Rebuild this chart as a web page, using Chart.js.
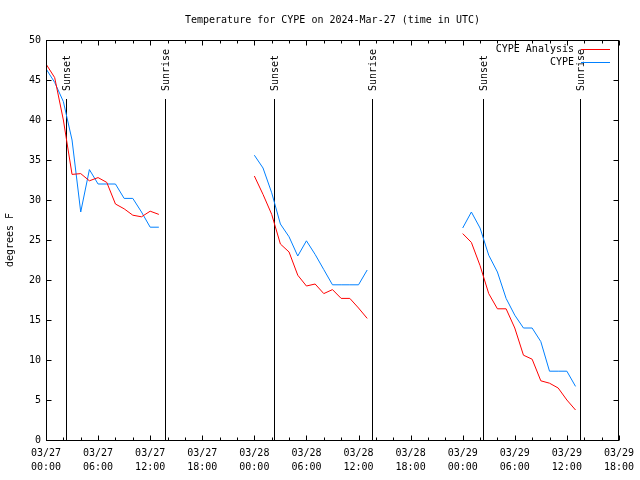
<!DOCTYPE html>
<html>
<head>
<meta charset="utf-8">
<title>CYPE temperature</title>
<script src="https://cdn.jsdelivr.net/npm/chart.js@4/dist/chart.umd.min.js"></script>
<style>
    html, body { margin: 0; padding: 0; background: #fff; }
</style>
</head>
<body>
<canvas id="tempChart" width="640" height="480"></canvas>
<script>
// Hours since 03/27 00:00 UTC, one block per evening
const hoursDay1 = [0, 1, 2, 3, 4, 5, 6, 7, 8, 9, 10, 11, 12, 13];
const hoursDay2 = [24, 25, 26, 27, 28, 29, 30, 31, 32, 33, 34, 35, 36, 37];
const hoursDay3 = [48, 49, 50, 51, 52, 53, 54, 55, 56, 57, 58, 59, 60, 61];

// CYPE Analysis (red)
const analysisDay1 = [47.0, 45.3, 40.0, 33.2, 33.3, 32.4, 32.8, 32.2, 29.5, 28.9, 28.1, 27.9, 28.6, 28.2];
const analysisDay2 = [33.0, 30.7, 28.2, 24.5, 23.5, 20.6, 19.25, 19.5, 18.3, 18.8, 17.7, 17.7, 16.5, 15.2];
const analysisDay3 = [25.8, 24.7, 21.8, 18.3, 16.4, 16.4, 14.0, 10.6, 10.1, 7.4, 7.1, 6.5, 5.0, 3.75];

// CYPE observations (blue)
const obsDay1 = [46.4, 44.7, 42.3, 37.5, 28.5, 33.8, 32.0, 32.0, 32.0, 30.2, 30.2, 28.5, 26.6, 26.6];
const obsDay2 = [35.6, 34.0, 30.9, 27.0, 25.4, 23.0, 24.9, 23.2, 21.3, 19.4, 19.4, 19.4, 19.4, 21.25];
const obsDay3 = [26.5, 28.5, 26.5, 23.1, 21.0, 17.7, 15.6, 14.0, 14.0, 12.3, 8.6, 8.6, 8.6, 6.7];

// Sun events (hours since 03/27 00:00)
const sunsetHours = [2.26, 26.24, 50.32];
const sunriseHours = [13.66, 37.58, 61.57];
const eventTop = 42.6;

const FONT = "'DejaVu Sans Mono', monospace";

function toPoints(blocks) {
    const pts = [];
    blocks.forEach(function(b, i) {
        if (i > 0) pts.push({ x: b[0][0] - 1, y: null });
        b[0].forEach(function(h, j) { pts.push({ x: h, y: b[1][j] }); });
    });
    return pts;
}

function pad2(n) { return (n < 10 ? '0' : '') + n; }

const framePlugin = {
    id: 'frame',
    beforeDatasetsDraw(chart) {
        const ctx = chart.ctx;
        const xs = chart.scales.x, ys = chart.scales.y;
        const yBot = ys.getPixelForValue(0);
        const yTop = Math.round(ys.getPixelForValue(eventTop));
        ctx.save();
        ctx.strokeStyle = '#000';
        ctx.lineWidth = 1;
        ctx.fillStyle = '#000';
        ctx.font = '10px ' + FONT;
        ctx.textBaseline = 'middle';
        ctx.textAlign = 'left';
        const events = [];
        sunsetHours.forEach(function(h) { events.push([h, 'Sunset']); });
        sunriseHours.forEach(function(h) { events.push([h, 'Sunrise']); });
        events.forEach(function(ev) {
            const x = Math.round(xs.getPixelForValue(ev[0])) + 0.5;
            ctx.beginPath();
            ctx.moveTo(x, yBot);
            ctx.lineTo(x, yTop);
            ctx.stroke();
            ctx.save();
            ctx.translate(x + 1, yTop - 8);
            ctx.rotate(-Math.PI / 2);
            ctx.fillText(ev[1], 0, 0);
            ctx.restore();
        });
        ctx.restore();
    },
    afterDraw(chart) {
        const ctx = chart.ctx;
        const a = chart.chartArea;
        const xs = chart.scales.x, ys = chart.scales.y;
        ctx.save();
        ctx.strokeStyle = '#000';
        ctx.lineWidth = 1;
        const L = Math.round(a.left) + 0.5, R = Math.round(a.right) - 0.5;
        const T = Math.round(a.top) + 0.5, B = Math.round(a.bottom) + 0.5;
        ctx.strokeRect(L, T, R - L, B - T);
        ctx.beginPath();
        // inward ticks, mirrored
        for (let v = 0; v <= 50; v += 5) {
            const y = Math.round(ys.getPixelForValue(v)) + 0.5;
            ctx.moveTo(L, y); ctx.lineTo(L + 5, y);
            ctx.moveTo(R, y); ctx.lineTo(R - 5, y);
        }
        for (let h = 0; h <= 66; h += 2) {
            const x = Math.round(xs.getPixelForValue(h)) + 0.5;
            const len = h % 6 === 0 ? 5 : 3;
            ctx.moveTo(x, B); ctx.lineTo(x, B - len);
            ctx.moveTo(x, T); ctx.lineTo(x, T + len);
        }
        ctx.stroke();

        // key, top right
        ctx.font = '10px ' + FONT;
        ctx.textAlign = 'right';
        ctx.textBaseline = 'middle';
        ctx.fillStyle = '#000';
        [0, 1].forEach(function(i) {
            const ds = chart.data.datasets[i];
            const y = 49 + i * 13;
            ctx.fillText(ds.label, 574, y);
            ctx.strokeStyle = ds.borderColor;
            ctx.beginPath();
            ctx.moveTo(581, y + 0.5);
            ctx.lineTo(610, y + 0.5);
            ctx.stroke();
        });
        ctx.restore();
    }
};

const ctx = document.getElementById('tempChart').getContext('2d');
new Chart(ctx, {
    type: 'line',
    data: {
        datasets: [{
            label: 'CYPE Analysis',
            data: toPoints([[hoursDay1, analysisDay1], [hoursDay2, analysisDay2], [hoursDay3, analysisDay3]]),
            borderColor: '#ff0000',
            borderWidth: 1,
            pointRadius: 0,
            tension: 0,
            spanGaps: false
        }, {
            label: 'CYPE',
            data: toPoints([[hoursDay1, obsDay1], [hoursDay2, obsDay2], [hoursDay3, obsDay3]]),
            borderColor: '#0080ff',
            borderWidth: 1,
            pointRadius: 0,
            tension: 0,
            spanGaps: false
        }]
    },
    options: {
        responsive: false,
        animation: false,
        events: [],
        layout: { padding: { left: 0, right: 19, top: 0, bottom: 0 } },
        plugins: {
            legend: { display: false },
            tooltip: { enabled: false },
            title: {
                display: true,
                text: 'Temperature for CYPE on 2024-Mar-27 (time in UTC)',
                color: '#000',
                fullSize: false,
                font: { family: FONT, size: 10, weight: 'normal' },
                padding: { top: 14, bottom: 14 }
            }
        },
        scales: {
            x: {
                type: 'linear',
                min: 0,
                max: 66,
                grid: { display: false, tickLength: 0 },
                border: { display: false },
                afterFit: function(s) { s.height = 40; },
                ticks: {
                    stepSize: 6,
                    autoSkip: false,
                    maxRotation: 0,
                    padding: 6,
                    color: '#000',
                    font: { family: FONT, size: 10, lineHeight: 1.4 },
                    callback: function(v) {
                        const day = 27 + Math.floor(v / 24);
                        return ['03/' + day, pad2(v % 24) + ':00'];
                    }
                }
            },
            y: {
                min: 0,
                max: 50,
                grid: { display: false, tickLength: 0 },
                border: { display: false },
                afterFit: function(s) { s.width = 46; },
                title: {
                    display: true,
                    text: 'degrees F',
                    color: '#000',
                    font: { family: FONT, size: 10 },
                    padding: { top: 4, bottom: 0 }
                },
                ticks: {
                    stepSize: 5,
                    padding: 5,
                    color: '#000',
                    font: { family: FONT, size: 10 }
                }
            }
        }
    },
    plugins: [framePlugin]
});
</script>
</body>
</html>
